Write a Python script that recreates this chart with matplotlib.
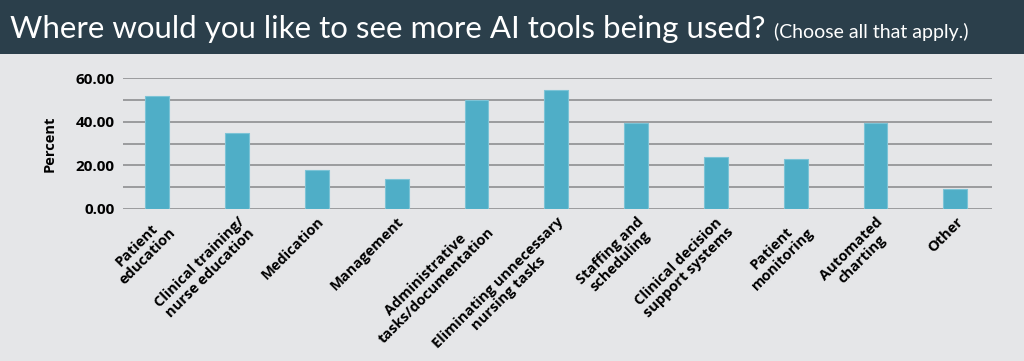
import matplotlib
matplotlib.use("Agg")
import matplotlib.pyplot as plt
from matplotlib.ticker import MultipleLocator

categories = ["Patient\neducation", "Clinical training/\nnurse education", "Medication",
              "Management", "Administrative\ntasks/documentation",
              "Eliminating unnecessary\nnursing tasks", "Staffing and\nscheduling",
              "Clinical decision\nsupport systems", "Patient\nmonitoring",
              "Automated\ncharting", "Other"]
values = [51.6, 34.9, 17.9, 13.8, 50.0, 54.6, 39.3, 23.7, 22.8, 39.3, 9.2]

bg = "#e5e6e8"
fig = plt.figure(figsize=(10.24, 3.61), dpi=100)
fig.patch.set_facecolor(bg)

# dark title banner
fig.patches.append(plt.Rectangle((0, 1 - 54/361), 1, 54/361, transform=fig.transFigure,
                                 facecolor="#2b3f4b", edgecolor="none", zorder=0))
fig.text(10/1024, 1 - 38/361, "Where would you like to see more AI tools being used?",
         color="white", fontsize=22.5, family="Lato", va="baseline")
fig.text(774/1024, 1 - 38/361, "(Choose all that apply.)",
         color="white", fontsize=14, family="Lato", va="baseline")

ax = fig.add_axes([123/1024, 1 - 209/361, 869/1024, 131/361])
ax.set_facecolor(bg)
x = range(len(values))
ax.bar(x, values, width=0.3, color="#4faec7", edgecolor="#7cc3d6", linewidth=0.8, zorder=3)
ax.set_ylim(0, 60)
ax.set_xlim(-0.43, len(values) - 0.54)
ax.yaxis.set_minor_locator(MultipleLocator(10))
ax.grid(axis="y", which="both", color="#8e8f91", linewidth=1.2, zorder=0)
for s in ax.spines.values():
    s.set_visible(False)
ax.tick_params(axis="both", which="both", length=0)
ax.set_yticks([0, 20, 40, 60])
ax.set_yticklabels(["0.00", "20.00", "40.00", "60.00"], fontsize=11, fontweight="bold",
                   family="Open Sans")
ax.tick_params(axis="y", pad=6)
ax.set_xticks(list(x))
ax.set_xticklabels(categories, rotation=45, ha="right", rotation_mode="anchor",
                   multialignment="center", fontsize=10.5, fontweight="bold", family="Open Sans",
                   linespacing=1.1)
ax.tick_params(axis="x", pad=4)
ax.set_ylabel("Percent", fontsize=10.5, fontweight="bold", family="Open Sans", labelpad=14)

fig.savefig("out.png", dpi=100, facecolor=bg)
